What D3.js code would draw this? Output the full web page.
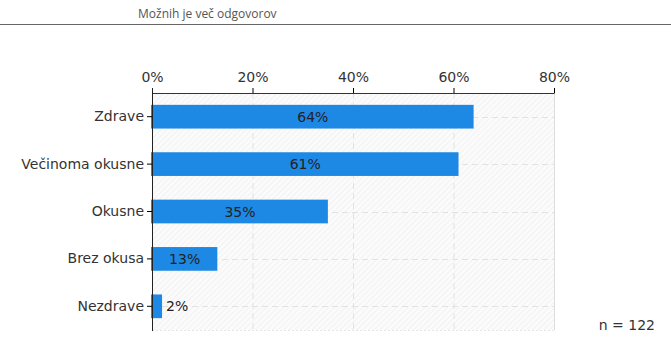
<!DOCTYPE html>
<html>
<head>
<meta charset="utf-8">
<script src="https://cdn.jsdelivr.net/npm/d3@7"></script>
<style>
  body { margin: 0; background: #fff; }
  svg { display: block; }
</style>
</head>
<body>
<div id="chart"></div>
<script>
const categories = ["Zdrave", "Večinoma okusne", "Okusne", "Brez okusa", "Nezdrave"];
const values = [64, 61, 35, 13, 2];
const tickValues = [0, 20, 40, 60, 80];
const subtitle = "Možnih je več odgovorov";
const sampleNote = "n = 122";

const width = 671, height = 351;
const margin = { top: 93, right: 117, bottom: 21, left: 152 };
const innerW = width - margin.left - margin.right;
const innerH = height - margin.top - margin.bottom;
const font = "'DejaVu Sans', Verdana, sans-serif";

const svg = d3.select("#chart").append("svg").attr("width", width).attr("height", height);

// hatch pattern for plot background
const defs = svg.append("defs");
const pat = defs.append("pattern")
    .attr("id", "hatch")
    .attr("patternUnits", "userSpaceOnUse")
    .attr("width", 4).attr("height", 4)
    .attr("patternTransform", "rotate(45)");
pat.append("rect").attr("width", 4).attr("height", 4).attr("fill", "#fbfbfb");
pat.append("line").attr("x1", 0).attr("y1", 0).attr("x2", 0).attr("y2", 4)
    .attr("stroke", "#ececec").attr("stroke-width", 1.2);

// header
svg.append("text")
    .attr("x", 138).attr("y", 18)
    .attr("font-family", "'Open Sans', sans-serif")
    .attr("font-size", 12)
    .attr("fill", "#555")
    .text(subtitle);
svg.append("line")
    .attr("x1", 0).attr("x2", width).attr("y1", 24.5).attr("y2", 24.5)
    .attr("stroke", "#666").attr("stroke-width", 1);

const x = d3.scaleLinear().domain([0, 80]).range([0, innerW]);
const y = d3.scaleBand().domain(categories).range([0, innerH]).paddingInner(0.5).paddingOuter(0.25);

const g = svg.append("g").attr("transform", `translate(${margin.left},${margin.top})`);

g.append("rect").attr("width", innerW).attr("height", innerH).attr("fill", "url(#hatch)");

// grid
g.selectAll(".vgrid").data(tickValues.slice(1))
    .join("line")
    .attr("x1", d => x(d) + 0.5).attr("x2", d => x(d) + 0.5)
    .attr("y1", 0).attr("y2", innerH)
    .attr("stroke", "#e2e2e2").attr("stroke-dasharray", "6,4");
g.selectAll(".hgrid").data(categories)
    .join("line")
    .attr("x1", 0).attr("x2", innerW)
    .attr("y1", d => Math.round(y(d) + y.bandwidth() / 2) + 0.5)
    .attr("y2", d => Math.round(y(d) + y.bandwidth() / 2) + 0.5)
    .attr("stroke", "#e2e2e2").attr("stroke-dasharray", "6,4");
g.append("line")
    .attr("x1", innerW + 0.5).attr("x2", innerW + 0.5).attr("y1", 0).attr("y2", innerH)
    .attr("stroke", "#ddd");
g.append("line")
    .attr("x1", 0).attr("x2", innerW).attr("y1", innerH + 0.5).attr("y2", innerH + 0.5)
    .attr("stroke", "#e6e6e6").attr("stroke-dasharray", "2,2");

// bars
g.selectAll(".bar").data(values)
    .join("rect")
    .attr("x", -1)
    .attr("y", (d, i) => y(categories[i]))
    .attr("width", d => x(d) + 1)
    .attr("height", y.bandwidth())
    .attr("fill", "#1e88e5");

// value labels
g.selectAll(".lbl").data(values)
    .join("text")
    .attr("x", d => x(d) > 40 ? x(d) / 2 : x(d) + 4)
    .attr("y", (d, i) => y(categories[i]) + y.bandwidth() / 2)
    .attr("dy", "0.36em")
    .attr("text-anchor", d => x(d) > 40 ? "middle" : "start")
    .attr("font-family", font)
    .attr("font-size", 14)
    .attr("fill", "#222")
    .text(d => d + "%");

// axes
const xAxis = g.append("g")
    .call(d3.axisTop(x).tickValues(tickValues).tickFormat(d => d + "%").tickSize(5).tickSizeOuter(0));
xAxis.select(".domain").attr("stroke", "#333");
xAxis.selectAll("text")
    .attr("font-family", font)
    .attr("font-size", 14)
    .attr("fill", "#333")
    .attr("dy", "-0.2em");

const yAxis = g.append("g")
    .call(d3.axisLeft(y).tickSize(5).tickSizeOuter(0).tickPadding(3));
yAxis.select(".domain").attr("stroke", "#222").attr("d", `M0.5,-5V${innerH + 1}`);
yAxis.selectAll("text")
    .attr("font-family", font)
    .attr("font-size", 14)
    .attr("fill", "#333");

// sample size
svg.append("text")
    .attr("x", 655).attr("y", 330)
    .attr("text-anchor", "end")
    .attr("font-family", font)
    .attr("font-size", 14)
    .attr("fill", "#333")
    .text(sampleNote);
</script>
</body>
</html>
